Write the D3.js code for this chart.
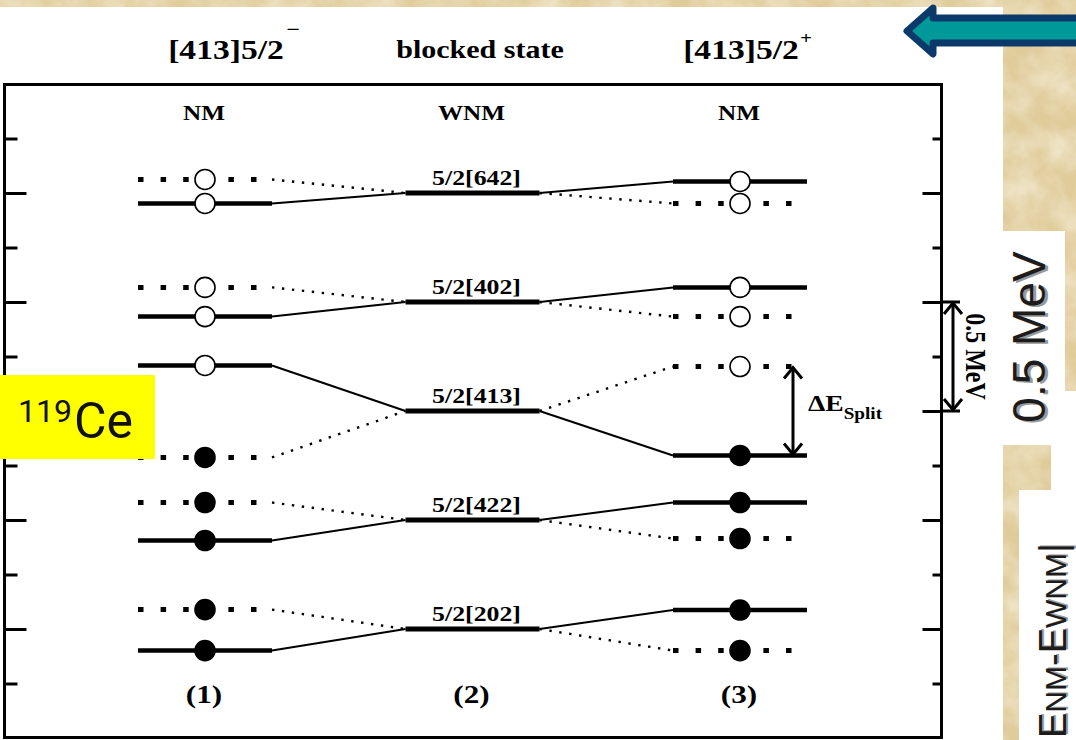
<!DOCTYPE html>
<html>
<head>
<meta charset="utf-8">
<script src="https://cdn.jsdelivr.net/npm/d3@7"></script>
<style>
body{margin:0;background:#e4d2a4;overflow:hidden;}
svg{display:block;}
</style>
</head>
<body>
<div id="slide"></div>
<script>
// energies in MeV, relative to the WNM 5/2[413] level
var orbitals = ["5/2[642]", "5/2[402]", "5/2[413]", "5/2[422]", "5/2[202]"];
var wnmEnergy = [1.0, 0.5, 0.0, -0.5, -1.0];
var nm1Solid = [0.952, 0.433, 0.209, -0.594, -1.099];
var nm1Dotted = [1.062, 0.567, -0.213, -0.420, -0.911];
var nm3Solid = [1.053, 0.567, -0.204, -0.420, -0.913];
var nm3Dotted = [0.952, 0.433, 0.204, -0.585, -1.099];
var columns = [1, 2, 3];
var columnTop = ["NM", "WNM", "NM"];
var columnBottom = ["(1)", "(2)", "(3)"];
var majorTicks = [-1, -0.5, 0, 0.5, 1];
var minorTicks = [-1.25, -0.75, -0.25, 0.25, 0.75, 1.25];
var splitPair = [0.204, -0.204];
var scaleBar = [0.5, 0];

var W = 1076, H = 740;
var serif = "'Liberation Serif','Times New Roman',serif";
var sans = "'Liberation Sans',Arial,sans-serif";

var svg = d3.select("#slide").append("svg").attr("width", W).attr("height", H);

// parchment background
var defs = svg.append("defs");
var f = defs.append("filter").attr("id", "paper").attr("x", 0).attr("y", 0).attr("width", 1).attr("height", 1);
f.append("feTurbulence").attr("type", "fractalNoise").attr("baseFrequency", 0.03).attr("numOctaves", 4).attr("seed", 7);
f.append("feColorMatrix").attr("type", "matrix")
    .attr("values", "0 0 0 0 0.96  0 0 0 0 0.92  0 0 0 0 0.80  1.1 0 0 0 -0.35");
svg.append("rect").attr("width", W).attr("height", H).attr("fill", "#e0cc9b");
svg.append("rect").attr("width", W).attr("height", H).attr("filter", "url(#paper)");

// white panels of the slide
svg.append("rect").attr("x", 0).attr("y", 7).attr("width", 1003).attr("height", H - 7).attr("fill", "#fff");
svg.append("rect").attr("x", 1003).attr("y", 231).attr("width", 62).attr("height", 160).attr("fill", "#fff");
svg.append("rect").attr("x", 1003).attr("y", 391).attr("width", 73).attr("height", 54).attr("fill", "#fff");
svg.append("rect").attr("x", 1051).attr("y", 445).attr("width", 25).attr("height", 45).attr("fill", "#fff");
svg.append("rect").attr("x", 1019).attr("y", 490).attr("width", 57).attr("height", 250).attr("fill", "#fff");

var x = d3.scaleLinear().domain([1, 3]).range([205, 740]);
var y = d3.scaleLinear().domain([-1.5, 1.5]).range([738, 84]);
var halfW = 67;
var stretch = 1.2;

var chart = svg.append("g");

function label(g, px, py, str, size, anchor) {
    return g.append("text")
        .attr("transform", "translate(" + px + "," + py + ") scale(" + stretch + ",1)")
        .attr("text-anchor", anchor || "middle")
        .attr("font-family", serif).attr("font-weight", "bold")
        .attr("font-size", size).attr("fill", "#000")
        .text(str);
}

// frame
chart.append("rect").attr("x", 4.5).attr("y", 84.5).attr("width", 937).attr("height", 653)
    .attr("fill", "none").attr("stroke", "#000").attr("stroke-width", 3);

function ticks(vals, len, side) {
    var ax = side == "left" ? d3.axisLeft(y) : d3.axisRight(y);
    ax.tickValues(vals).tickSize(-len).tickFormat("");
    var g = chart.append("g")
        .attr("transform", "translate(" + (side == "left" ? 4.5 : 941.5) + ",0)")
        .call(ax);
    g.select(".domain").remove();
    g.selectAll("line").attr("stroke", "#000").attr("stroke-width", 3);
}
ticks(majorTicks, 22, "left");
ticks(minorTicks, 13, "left");
ticks(majorTicks, 19, "right");
ticks(minorTicks, 9, "right");

// connectors
var links = [];
orbitals.forEach(function (o, i) {
    links.push({x1: x(1) + halfW, e1: nm1Solid[i], x2: x(2) - halfW, e2: wnmEnergy[i], dot: false});
    links.push({x1: x(1) + halfW, e1: nm1Dotted[i], x2: x(2) - halfW, e2: wnmEnergy[i], dot: true});
    links.push({x1: x(2) + halfW, e1: wnmEnergy[i], x2: x(3) - halfW, e2: nm3Solid[i], dot: false});
    links.push({x1: x(2) + halfW, e1: wnmEnergy[i], x2: x(3) - halfW, e2: nm3Dotted[i], dot: true});
});
chart.selectAll(".link").data(links).enter().append("line")
    .attr("x1", function (d) { return d.x1; })
    .attr("y1", function (d) { return y(d.e1); })
    .attr("x2", function (d) { return d.x2; })
    .attr("y2", function (d) { return y(d.e2); })
    .attr("stroke", "#000")
    .attr("stroke-width", function (d) { return d.dot ? 2.4 : 2; })
    .attr("stroke-dasharray", function (d) { return d.dot ? "2.4,7.6" : null; });

// levels
var levels = [];
orbitals.forEach(function (o, i) {
    levels.push({col: 1, e: nm1Solid[i], dot: false});
    levels.push({col: 1, e: nm1Dotted[i], dot: true});
    levels.push({col: 3, e: nm3Solid[i], dot: false});
    levels.push({col: 3, e: nm3Dotted[i], dot: true});
});
chart.selectAll(".lev").data(levels).enter().append("line")
    .attr("x1", function (d) { return x(d.col) - halfW; })
    .attr("x2", function (d) { return x(d.col) + halfW; })
    .attr("y1", function (d) { return y(d.e); })
    .attr("y2", function (d) { return y(d.e); })
    .attr("stroke", "#000")
    .attr("stroke-width", function (d) { return d.dot ? 5 : 4.5; })
    .attr("stroke-dasharray", function (d) { return d.dot ? "5.5,17.1" : null; });

chart.selectAll(".wnm").data(wnmEnergy).enter().append("line")
    .attr("x1", x(2) - halfW).attr("x2", x(2) + halfW)
    .attr("y1", function (d) { return y(d); }).attr("y2", function (d) { return y(d); })
    .attr("stroke", "#000").attr("stroke-width", 5);

chart.selectAll(".occ").data(levels).enter().append("circle")
    .attr("cx", function (d) { return x(d.col); })
    .attr("cy", function (d) { return y(d.e); })
    .attr("r", 10)
    .attr("fill", function (d) { return d.e < 0 ? "#000" : "#fff"; })
    .attr("stroke", "#000").attr("stroke-width", 1.6);

// labels
orbitals.forEach(function (o, i) {
    label(chart, x(2) + 4, y(wnmEnergy[i]) - 8, o, 21.5);
});
columns.forEach(function (c, i) {
    label(chart, x(c) - 1, 120, columnTop[i], 21);
    label(chart, x(c) - 1, 703, columnBottom[i], 26);
});
label(chart, 226, 59, "[413]5/2", 28);
label(chart, 293, 36, "\u2212", 20);
label(chart, 741, 59, "[413]5/2", 28);
label(chart, 806, 44, "+", 17);
label(chart, 480, 58, "blocked state", 25);

function vArrow(px, e1, e2) {
    var a = y(e1), b = y(e2);
    chart.append("line").attr("x1", px).attr("x2", px).attr("y1", a + 1).attr("y2", b - 1)
        .attr("stroke", "#000").attr("stroke-width", 3);
    chart.append("path")
        .attr("d", "M" + (px - 9) + "," + (a + 12) + "L" + px + "," + (a + 1) + "L" + (px + 9) + "," + (a + 12) +
            "M" + (px - 9) + "," + (b - 12) + "L" + px + "," + (b - 1) + "L" + (px + 9) + "," + (b - 12))
        .attr("fill", "none").attr("stroke", "#000").attr("stroke-width", 3);
}
vArrow(793, splitPair[0], splitPair[1]);
vArrow(953, scaleBar[0], scaleBar[1]);
scaleBar.forEach(function (e) {
    chart.append("line").attr("x1", 941).attr("x2", 960).attr("y1", y(e)).attr("y2", y(e))
        .attr("stroke", "#000").attr("stroke-width", 3);
});

var dE = chart.append("text")
    .attr("transform", "translate(808,411) scale(" + stretch + ",1)")
    .attr("font-family", serif).attr("font-weight", "bold").attr("font-size", 23);
dE.append("tspan").text("\u0394E");
dE.append("tspan").attr("dy", 8).attr("font-size", 16).text("Split");

chart.append("text")
    .attr("transform", "translate(966," + y(0.25) + ") rotate(90) scale(1," + stretch + ")")
    .attr("text-anchor", "middle")
    .attr("font-family", serif).attr("font-weight", "bold").attr("font-size", 24)
    .text("0.5 MeV");

// slide overlays
svg.append("rect").attr("x", 0).attr("y", 375).attr("width", 155).attr("height", 84).attr("fill", "#ffff00");
var ce = svg.append("text").attr("x", 18).attr("y", 438).attr("font-family", "Roboto," + sans).attr("fill", "#111");
ce.append("tspan").attr("font-size", 32).attr("dy", -16).text("119");
ce.append("tspan").attr("font-size", 50).attr("dy", 16).attr("dx", 2).text("Ce");

svg.append("path")
    .attr("d", "M1090,18L933,18L933,8L907,31L933,54L933,43L1090,43Z")
    .attr("fill", "#00999a").attr("stroke", "#0b3a6a").attr("stroke-width", 7)
    .attr("stroke-linejoin", "round");

var mev = svg.append("g");
[["#9a9a9a", 2.5, 1.5], ["#1c1c1c", 0, 0]].forEach(function (s) {
    mev.append("text")
        .attr("transform", "translate(" + (1045 + s[1]) + "," + (337 + s[2]) + ") rotate(-90)")
        .attr("text-anchor", "middle")
        .attr("font-family", sans).attr("font-size", 46).attr("fill", s[0])
        .text("0.5 MeV");
});

var eg = svg.append("g");
[["#a0a0a0", 1.5, 1], ["#1c1c1c", 0, 0]].forEach(function (s) {
    var t = eg.append("text")
        .attr("transform", "translate(" + (1066 + s[1]) + "," + (738 - s[2]) + ") rotate(-90)")
        .attr("font-family", sans).attr("font-size", 38).attr("fill", s[0]);
    t.append("tspan").text("E");
    t.append("tspan").attr("font-size", 30).text("NM");
    t.append("tspan").text("-E");
    t.append("tspan").attr("font-size", 30).text("WNM");
    t.append("tspan").text("|");
});
</script>
</body>
</html>
